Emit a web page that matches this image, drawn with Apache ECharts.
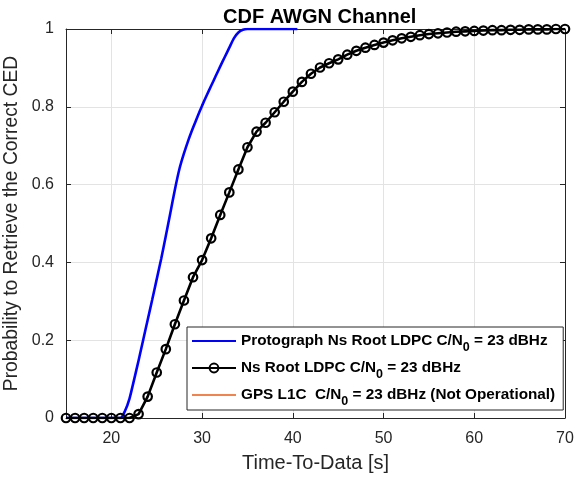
<!DOCTYPE html>
<html>
<head>
<meta charset="utf-8">
<script src="https://cdn.jsdelivr.net/npm/echarts@6/dist/echarts.min.js"></script>
<style>
html,body{margin:0;padding:0;background:#fff;}
#chart{width:574px;height:481px;}
</style>
</head>
<body>
<div id="chart"></div>
<script>
// ---- data ----
var titleText = 'CDF AWGN Channel';
var xAxisName = 'Time-To-Data [s]';
var yAxisName = 'Probability to Retrieve the Correct CED';
var xTicks = [20, 30, 40, 50, 60, 70];
var yTicks = [0, 0.2, 0.4, 0.6, 0.8, 1];

var seriesNames = [
  'Protograph Ns Root LDPC C/N0 = 23 dBHz',
  'Ns Root LDPC C/N0 = 23 dBHz',
  'GPS L1C  C/N0 = 23 dBHz (Not Operational)'
];

// Protograph Ns Root LDPC (blue)
var protoTime = [15, 21, 21.5, 22, 22.5, 23, 23.5, 24, 24.5, 25, 25.5, 26, 26.5, 27, 27.5, 28, 28.5, 29, 29.5, 30,
  30.5, 31, 31.5, 32, 32.5, 33, 33.5, 34, 34.5, 35, 36, 37, 38, 39, 40, 40.5];
var protoProb = [0, 0, 0.018, 0.05, 0.098, 0.148, 0.200, 0.252, 0.304, 0.357, 0.410, 0.468, 0.527, 0.587, 0.640, 0.680,
  0.715, 0.746, 0.775, 0.803, 0.829, 0.854, 0.879, 0.904, 0.928, 0.952, 0.976, 0.991, 0.998, 1, 1, 1, 1, 1, 1, 1];

// Ns Root LDPC (black, circles)
var nsTime = [15, 16, 17, 18, 19, 20, 21, 22, 23, 24, 25, 26, 27, 28, 29, 30, 31, 32, 33, 34, 35, 36, 37, 38, 39, 40,
  41, 42, 43, 44, 45, 46, 47, 48, 49, 50, 51, 52, 53, 54, 55, 56, 57, 58, 59, 60, 61, 62, 63, 64, 65, 66, 67, 68, 69, 70];
var nsProb = [0, 0, 0, 0, 0, 0, 0, 0, 0.01, 0.055, 0.117, 0.177, 0.241, 0.302, 0.362, 0.406, 0.462, 0.522, 0.580, 0.639,
  0.696, 0.736, 0.759, 0.786, 0.813, 0.839, 0.864, 0.885, 0.901, 0.912, 0.922, 0.934, 0.944, 0.952, 0.959, 0.965,
  0.971, 0.976, 0.980, 0.984, 0.987, 0.989, 0.991, 0.993, 0.994, 0.995, 0.996, 0.997, 0.997, 0.998, 0.998, 0.999,
  0.999, 0.999, 1, 1];

// GPS L1C (no data shown, legend only)
var gpsTime = [];
var gpsProb = [];

function pairs(xs, ys) {
  var out = [];
  for (var i = 0; i < xs.length; i++) out.push([xs[i], ys[i]]);
  return out;
}

var FONT = '"Liberation Sans", Arial, Helvetica, sans-serif';
var AX = '#262626';
var GRID = '#e3e3e3';

var chart = echarts.init(document.getElementById('chart'), null, {renderer: 'canvas'});

var axisLineCommon = {show: true, onZero: false, lineStyle: {color: AX, width: 1}};

var option = {
  backgroundColor: '#fff',
  animation: false,
  title: {
    text: titleText,
    left: 218,
    top: 2,
    textStyle: {fontFamily: FONT, fontSize: 20, fontWeight: 'bold', color: '#000'}
  },
  grid: {left: 66, right: 9, top: 29, bottom: 63, containLabel: false, outerBoundsMode: 'none'},
  legend: {
    orient: 'vertical',
    left: 187,
    top: 327,
    padding: [5, 8, 2, 4],
    itemGap: 5,
    itemWidth: 44,
    itemHeight: 11,
    backgroundColor: '#fff',
    borderColor: AX,
    borderWidth: 1,
    data: [
      {name: seriesNames[0], itemStyle: {color: 'rgba(0,0,0,0)', borderWidth: 0, opacity: 0}},
      {name: seriesNames[1]},
      {name: seriesNames[2], itemStyle: {color: 'rgba(0,0,0,0)', borderWidth: 0, opacity: 0}}
    ],
    formatter: function (name) {
      var i = name.indexOf('N0');
      return '{t|' + name.slice(0, i + 1) + '}{s|0}{t|' + name.slice(i + 2) + '}';
    },
    textStyle: {
      fontFamily: FONT, fontSize: 15.3, fontWeight: 'bold', color: '#000',
      rich: {
        t: {fontFamily: FONT, fontSize: 15.3, fontWeight: 'bold', color: '#000', lineHeight: 18, verticalAlign: 'middle'},
        s: {fontFamily: FONT, fontSize: 12.5, fontWeight: 'bold', color: '#000', lineHeight: 10, verticalAlign: 'top', padding: [9, 0, 0, 0]}
      }
    }
  },
  xAxis: [
    {
      type: 'value', min: 15, max: 70, position: 'bottom',
      name: xAxisName, nameLocation: 'middle', nameGap: 35,
      nameTextStyle: {fontFamily: FONT, fontSize: 20, color: AX},
      axisLine: axisLineCommon,
      axisTick: {show: true, inside: true, length: 5, customValues: xTicks, lineStyle: {color: AX, width: 1}},
      axisLabel: {customValues: xTicks, margin: 13, fontFamily: FONT, fontSize: 16, color: AX},
      splitLine: {show: true, lineStyle: {color: GRID, width: 1}}
    },
    {
      type: 'value', min: 15, max: 70, position: 'top',
      axisLine: axisLineCommon,
      axisTick: {show: true, inside: true, length: 5, customValues: xTicks, lineStyle: {color: AX, width: 1}},
      axisLabel: {show: false},
      splitLine: {show: false}
    }
  ],
  yAxis: [
    {
      type: 'value', min: 0, max: 1, interval: 0.2, position: 'left',
      name: yAxisName, nameLocation: 'middle', nameGap: 36,
      nameTextStyle: {fontFamily: FONT, fontSize: 19.3, color: AX},
      axisLine: axisLineCommon,
      axisTick: {show: true, inside: true, length: 5, lineStyle: {color: AX, width: 1}},
      axisLabel: {customValues: yTicks, margin: 12, fontFamily: FONT, fontSize: 16, color: AX},
      splitLine: {show: true, lineStyle: {color: GRID, width: 1}}
    },
    {
      type: 'value', min: 0, max: 1, interval: 0.2, position: 'right',
      axisLine: axisLineCommon,
      axisTick: {show: true, inside: true, length: 5, lineStyle: {color: AX, width: 1}},
      axisLabel: {show: false},
      splitLine: {show: false}
    }
  ],
  series: [
    {
      name: seriesNames[0], type: 'line', xAxisIndex: 0, yAxisIndex: 0,
      data: pairs(protoTime, protoProb),
      symbol: 'none', smooth: 0.2, z: 3,
      lineStyle: {color: '#0000ff', width: 2.6},
      itemStyle: {color: '#0000ff'}
    },
    {
      name: seriesNames[1], type: 'line', xAxisIndex: 0, yAxisIndex: 0,
      data: pairs(nsTime, nsProb),
      symbol: 'circle', symbolSize: 8.5, showSymbol: true, z: 4,
      lineStyle: {color: '#000', width: 2.6},
      itemStyle: {color: 'rgba(0,0,0,0)', borderColor: '#000', borderWidth: 2.2}
    },
    {
      name: seriesNames[2], type: 'line', xAxisIndex: 0, yAxisIndex: 0,
      data: pairs(gpsTime, gpsProb),
      symbol: 'none', z: 2,
      lineStyle: {color: '#f0844e', width: 1},
      itemStyle: {color: '#f0844e'}
    }
  ]
};
chart.setOption(option);
</script>
</body>
</html>
